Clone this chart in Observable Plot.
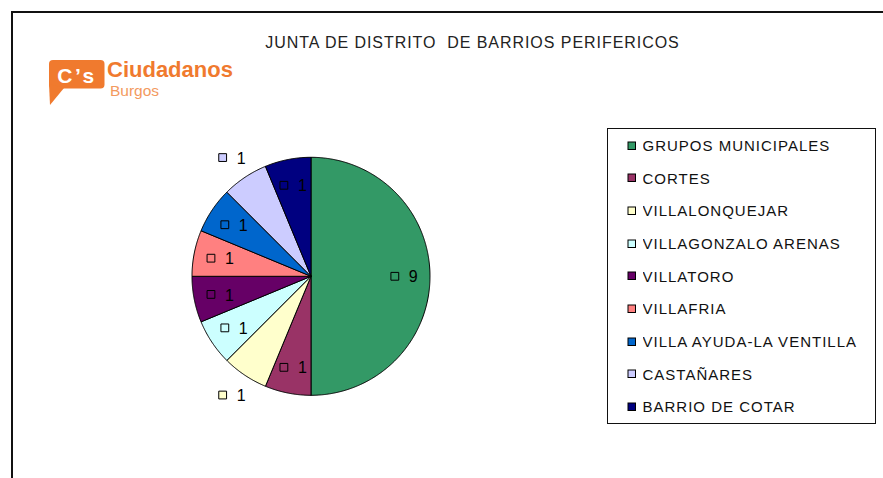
<!DOCTYPE html>
<html>
<head>
<meta charset="utf-8">
<script src="https://cdn.jsdelivr.net/npm/d3@7"></script>
<script src="https://cdn.jsdelivr.net/npm/@observablehq/plot@0.6"></script>
<style>
html, body { margin: 0; padding: 0; background: #fff; overflow: hidden; }
#wrap { position: relative; width: 883px; height: 478px; overflow: hidden; font-family: "Liberation Sans", Arial, sans-serif; }
#chart { position: absolute; left: 0; top: 0; }
#frame { position: absolute; left: 11px; top: 11px; width: 900px; height: 500px; border-top: 2px solid #111; border-left: 2px solid #111; pointer-events: none; }
#title { position: absolute; left: 0; top: 35px; width: 945px; text-align: center; white-space: pre; font-size: 16px; line-height: 16px; letter-spacing: 0.95px; color: #222; }
#logo { position: absolute; left: 0; top: 0; }
.lg-swatches { position: absolute; left: 607px; top: 128px; width: 247px; box-sizing: content-box; border: 1.5px solid #111; margin: 0; padding: 0 0 0 20px; font-family: "Liberation Sans", Arial, sans-serif; font-size: 15px; letter-spacing: 1px; color: #111; background: #fff; }
.lg-swatch { height: 32.7px; padding: 0; box-sizing: border-box; }
.lg-swatch > svg { margin-right: 7px; overflow: visible; }
.lg-swatch rect { stroke: #000; stroke-width: 1; }
</style>
</head>
<body>
<div id="wrap">
  <div id="chart"></div>
  <svg id="logo" width="260" height="110">
    <rect x="49" y="60" width="55.5" height="28.5" rx="4" fill="#F07A2E"></rect>
    <polygon points="49,84 50,105 64,88" fill="#F07A2E"></polygon>
    <text x="77" y="82.5" text-anchor="middle" font-family="Liberation Sans, Arial, sans-serif" font-weight="bold" font-size="21" letter-spacing="2.5" fill="#fff">C’s</text>
    <text x="107" y="77.3" font-family="Liberation Sans, Arial, sans-serif" font-weight="bold" font-size="22" fill="#F07A2E">Ciudadanos</text>
    <text x="110" y="95.5" font-family="Liberation Sans, Arial, sans-serif" font-size="15.5" fill="#F39A5E">Burgos</text>
  </svg>
  <div id="title">JUNTA DE DISTRITO  DE BARRIOS PERIFERICOS</div>
  <div id="frame"></div>
</div>
<script>
// ---- data ----
const categories = ["GRUPOS MUNICIPALES", "CORTES", "VILLALONQUEJAR", "VILLAGONZALO ARENAS", "VILLATORO", "VILLAFRIA", "VILLA AYUDA-LA VENTILLA", "CASTAÑARES", "BARRIO DE COTAR"];
// slice sizes as drawn (green = half the pie); labels show the rounded values
const values = [9, 1.125, 1.125, 1.125, 1.125, 1.125, 1.125, 1.125, 1.125];
const colors = ["#339966", "#993366", "#FFFFCC", "#CCFFFF", "#660066", "#FF8080", "#0066CC", "#CCCCFF", "#000080"];

// label placement config (outside the pie for these slices)
const labelOutside = new Set(["VILLALONQUEJAR", "CASTAÑARES"]);

const rows = categories.map((cat, i) => ({cat, value: values[i]}));
const slices = d3.pie().sort(null).value(d => d.value)(rows);

const poly = [];
for (const s of slices) {
  const cat = s.data.cat;
  poly.push({cat, x: 0, y: 0});
  const n = Math.max(2, Math.ceil((s.endAngle - s.startAngle) / (Math.PI / 360)));
  for (let i = 0; i <= n; i++) {
    const a = s.startAngle + (s.endAngle - s.startAngle) * i / n;
    poly.push({cat, x: Math.sin(a), y: Math.cos(a)});
  }
  poly.push({cat, x: 0, y: 0});
}

const labels = slices.map(s => {
  const a = (s.startAngle + s.endAngle) / 2;
  const r = labelOutside.has(s.data.cat) ? 1.2 : 0.78;
  return {cat: s.data.cat, value: s.data.value, x: r * Math.sin(a), y: r * Math.cos(a)};
});
const fmt = d3.format(".0f");

const plot = Plot.plot({
  width: 883,
  height: 478,
  marginLeft: 191.5,
  marginRight: 453.5,
  marginTop: 156.8,
  marginBottom: 83.2,
  x: {domain: [-1, 1], axis: null},
  y: {domain: [-1, 1], axis: null},
  color: {domain: categories, range: colors},
  style: {fontFamily: "Liberation Sans, Arial, sans-serif", background: "#fff", overflow: "visible"},
  marks: [
    Plot.line(poly, {x: "x", y: "y", z: "cat", fill: "cat", stroke: "#000", strokeWidth: 1, strokeLinejoin: "miter", curve: "linear"}),
    Plot.dot(labels, {x: "x", y: "y", symbol: "square", r: 4.4, fill: "cat", stroke: "#000", strokeWidth: 1, dx: -9}),
    Plot.text(labels, {x: "x", y: "y", text: d => fmt(d.value), dx: 9.5, dy: 1, fontSize: 16, fill: "#000"})
  ]
});
document.getElementById("chart").appendChild(plot);

const legend = plot.legend("color", {columns: 1, swatchSize: 7.5, className: "lg"});
document.getElementById("wrap").insertBefore(legend, document.getElementById("frame"));
</script>
</body>
</html>
